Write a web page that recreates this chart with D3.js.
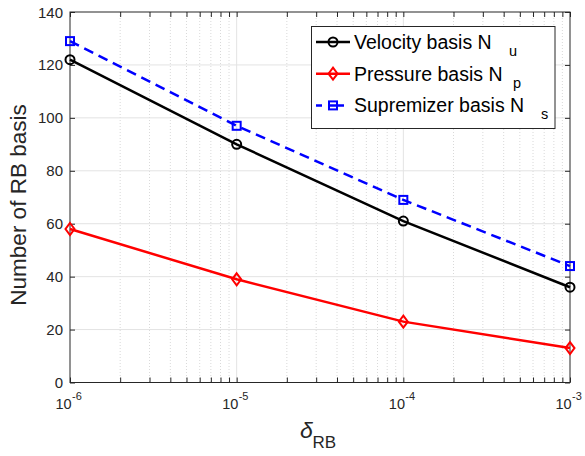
<!DOCTYPE html>
<html>
<head>
<meta charset="utf-8">
<script src="https://cdn.jsdelivr.net/npm/d3@7"></script>
<style>
  body { margin: 0; background: #fff; }
  text { font-family: "Liberation Sans", Arial, Helvetica, sans-serif; fill: #262626; }
</style>
</head>
<body>
<script>
// data
let deltas = [1e-6, 1e-5, 1e-4, 1e-3];
let velocity = [122, 90, 61, 36];
let pressure = [58, 39, 23, 13];
let supremizer = [129, 97, 69, 44];
let yTicks = [0, 20, 40, 60, 80, 100, 120, 140];
let xExponents = [-6, -5, -4, -3];

let width = 585;
let height = 456;
let plotLeft = 70, plotRight = 570, plotTop = 12, plotBottom = 382.5;

let svg = d3.select("body").append("svg")
  .attr("width", width)
  .attr("height", height);

let x = d3.scaleLog().domain([1e-6, 1e-3]).range([plotLeft, plotRight]);
let y = d3.scaleLinear().domain([0, 140]).range([plotBottom, plotTop]);

/* grid */
let minor = [];
for (let e = -6; e < -3; e++) {
  for (let k = 2; k <= 9; k++) minor.push(k * Math.pow(10, e));
}
svg.append("g").selectAll("line").data(minor).join("line")
  .attr("x1", d => x(d)).attr("x2", d => x(d))
  .attr("y1", plotTop).attr("y2", plotBottom)
  .attr("stroke", "#cfcfcf").attr("stroke-width", 0.8)
  .attr("stroke-dasharray", "1,2");
svg.append("g").selectAll("line").data(deltas.slice(1, 3)).join("line")
  .attr("x1", d => x(d)).attr("x2", d => x(d))
  .attr("y1", plotTop).attr("y2", plotBottom)
  .attr("stroke", "#e3e3e3").attr("stroke-width", 1);
svg.append("g").selectAll("line").data(yTicks.slice(1, -1)).join("line")
  .attr("x1", plotLeft).attr("x2", plotRight)
  .attr("y1", d => y(d)).attr("y2", d => y(d))
  .attr("stroke", "#e3e3e3").attr("stroke-width", 1);

/* axes (inside ticks, box) */
let axisColor = "#262626";
function styleAxis(g) {
  g.select(".domain").remove();
  g.selectAll("line").attr("stroke", axisColor);
  g.selectAll("text").remove();
}
let xTickVals = deltas.concat(minor);
svg.append("g").attr("transform", "translate(0," + plotBottom + ")")
  .call(d3.axisTop(x).tickValues(xTickVals).tickSize(5)).call(styleAxis);
svg.append("g").attr("transform", "translate(0," + plotTop + ")")
  .call(d3.axisBottom(x).tickValues(xTickVals).tickSize(5)).call(styleAxis);
svg.append("g").attr("transform", "translate(" + plotLeft + ",0)")
  .call(d3.axisRight(y).tickValues(yTicks).tickSize(5)).call(styleAxis);
svg.append("g").attr("transform", "translate(" + plotRight + ",0)")
  .call(d3.axisLeft(y).tickValues(yTicks).tickSize(5)).call(styleAxis);
svg.append("rect")
  .attr("x", plotLeft).attr("y", plotTop)
  .attr("width", plotRight - plotLeft).attr("height", plotBottom - plotTop)
  .attr("fill", "none").attr("stroke", axisColor).attr("stroke-width", 1);

/* tick labels */
svg.append("g").selectAll("text").data(yTicks).join("text")
  .attr("x", plotLeft - 7).attr("y", d => y(d) + 5.5)
  .attr("text-anchor", "end").attr("font-size", 15)
  .text(d => d);
let xl = svg.append("g").selectAll("g").data(xExponents).join("g")
  .attr("transform", d => "translate(" + x(Math.pow(10, d)) + ",0)");
xl.append("text").attr("x", -14.5).attr("y", 408.5).attr("font-size", 14.5).text("10");
xl.append("text").attr("x", 2).attr("y", 400).attr("font-size", 11).text(d => "-" + Math.abs(d));

/* axis titles */
svg.append("text")
  .attr("transform", "translate(26,205) rotate(-90)")
  .attr("text-anchor", "middle").attr("font-size", 22.5)
  .text("Number of RB basis");
svg.append("text").attr("x", 300).attr("y", 438)
  .attr("font-size", 23).attr("font-style", "italic")
  .attr("font-family", "'Liberation Serif', 'DejaVu Serif', serif")
  .text("δ");
svg.append("text").attr("x", 312.5).attr("y", 448).attr("font-size", 17).text("RB");

/* series */
let series = [
  { name: "Velocity basis N", sub: "u", values: velocity, color: "#000000", marker: "circle", dash: null },
  { name: "Pressure basis N", sub: "p", values: pressure, color: "#ff0000", marker: "diamond", dash: null },
  { name: "Supremizer basis N", sub: "s", values: supremizer, color: "#0000ff", marker: "square", dash: "10,6" }
];

let line = d3.line().x((d, i) => x(deltas[i])).y(d => y(d));

function drawMarker(g, type, color) {
  if (type === "circle") {
    g.append("circle").attr("r", 4.5)
      .attr("fill", "none").attr("stroke", color).attr("stroke-width", 2);
  } else if (type === "diamond") {
    g.append("path").attr("d", "M0,-6L4.5,0L0,6L-4.5,0Z")
      .attr("fill", "none").attr("stroke", color).attr("stroke-width", 2);
  } else {
    g.append("rect").attr("x", -4).attr("y", -4).attr("width", 8).attr("height", 8)
      .attr("fill", "none").attr("stroke", color).attr("stroke-width", 2);
  }
}

series.forEach(s => {
  svg.append("path").datum(s.values)
    .attr("d", line).attr("fill", "none")
    .attr("stroke", s.color).attr("stroke-width", 2.5)
    .attr("stroke-dasharray", s.dash);
  s.values.forEach((v, i) => {
    let g = svg.append("g").attr("transform", "translate(" + x(deltas[i]) + "," + y(v) + ")");
    drawMarker(g, s.marker, s.color);
  });
});

/* legend */
let legend = svg.append("g");
legend.append("rect")
  .attr("x", 311.5).attr("y", 26.5).attr("width", 243.5).attr("height", 102)
  .attr("fill", "#fff").attr("stroke", axisColor).attr("stroke-width", 1);
let subX = [509, 513, 541];
series.forEach((s, i) => {
  let cy = 42 + i * 31.7;
  legend.append("line")
    .attr("x1", 316).attr("x2", 350).attr("y1", cy).attr("y2", cy)
    .attr("stroke", s.color).attr("stroke-width", 2.5)
    .attr("stroke-dasharray", s.dash ? "6,6,10,0" : null);
  let g = legend.append("g").attr("transform", "translate(333," + cy + ")");
  drawMarker(g, s.marker, s.color);
  legend.append("text").attr("x", 354).attr("y", cy + 7)
    .attr("font-size", 19.5).style("fill", "#000").text(s.name);
  legend.append("text").attr("x", subX[i]).attr("y", cy + 14)
    .attr("font-size", 14.5).style("fill", "#000").text(s.sub);
});
</script>
</body>
</html>
